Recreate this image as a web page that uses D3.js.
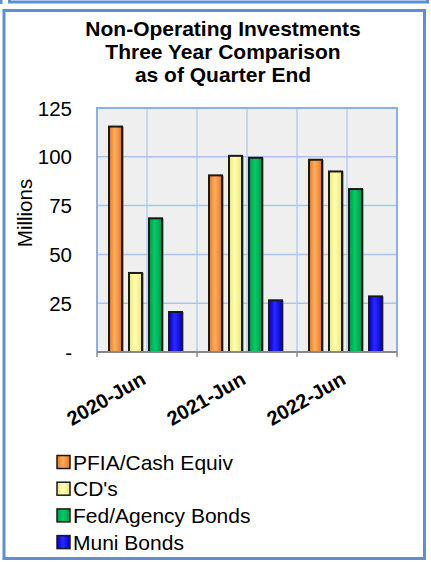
<!DOCTYPE html>
<html><head><meta charset="utf-8">
<script src="https://cdn.jsdelivr.net/npm/d3@7"></script>
<style>
html,body{margin:0;padding:0;background:#fff;}
svg{display:block;font-family:"Liberation Sans",Arial,sans-serif;}
</style></head>
<body><svg id="c" width="431" height="562"></svg>
<script>
const titleLines = ["Non-Operating Investments","Three Year Comparison","as of Quarter End"];
const categories = ["2020-Jun","2021-Jun","2022-Jun"];
const seriesNames = ["PFIA/Cash Equiv","CD's","Fed/Agency Bonds","Muni Bonds"];
const pfia = [116, 91, 99];
const cds = [41, 101, 93];
const fed = [69, 100, 84];
const muni = [21, 27, 29];
const yTicks = [0,25,50,75,100,125];
const yTickLabels = ["-","25","50","75","100","125"];
const yLabel = "Millions";
const colors = [
  {edge:"#e07a28", mid:"#ffad5c"},
  {edge:"#ece47a", mid:"#ffffb0"},
  {edge:"#00994a", mid:"#00cc66"},
  {edge:"#0000d0", mid:"#2a2aff"}
];
const values = [pfia, cds, fed, muni];

(function(){
const svg = d3.select("#c");
const defs = svg.append("defs");
colors.forEach((c,i)=>{
  const g = defs.append("linearGradient").attr("id","g"+i).attr("x1","0").attr("x2","1").attr("y1","0").attr("y2","0");
  g.append("stop").attr("offset","0").attr("stop-color",c.edge);
  g.append("stop").attr("offset","0.45").attr("stop-color",c.mid);
  g.append("stop").attr("offset","1").attr("stop-color",c.edge);
});

// frames
svg.append("rect").attr("x",9.5).attr("y",-20).attr("width",418).attr("height",22).attr("fill","none").attr("stroke","#5b8fd6").attr("stroke-width",3);
svg.append("line").attr("x1",1).attr("x2",1).attr("y1",0).attr("y2",4).attr("stroke","#5b8fd6").attr("stroke-width",3);
svg.append("rect").attr("x",4).attr("y",10.5).attr("width",420.5).attr("height",548).attr("fill","none").attr("stroke","#5b8fd6").attr("stroke-width",3);

// title
svg.append("text").attr("x",223).attr("y",36).attr("text-anchor","middle").attr("font-weight","bold").attr("font-size",21)
  .selectAll("tspan").data(titleLines).join("tspan").attr("x",223).attr("dy",(d,i)=>i?23:0).text(d=>d);

const pL=97, pR=397, pT=108, pB=352;
const x = d3.scaleBand().domain(categories).range([pL,pR]).padding(0);
const xs = d3.scaleBand().domain(d3.range(4)).range([11,86]).paddingInner(0.25).paddingOuter(0);
const y = d3.scaleLinear().domain([0,125]).range([pB,pT]);

svg.append("rect").attr("x",pL).attr("y",pT).attr("width",pR-pL).attr("height",pB-pT).attr("fill","#efefef");
// grid
svg.append("g").selectAll("line").data(yTicks.slice(1,-1)).join("line")
  .attr("x1",pL).attr("x2",pR).attr("y1",d=>y(d)).attr("y2",d=>y(d)).attr("stroke","#a9c5ec").attr("stroke-width",1.5);
const vgrid = [];
categories.forEach(c=>{vgrid.push(x(c)+x.bandwidth()/2); vgrid.push(x(c)+x.bandwidth());});
svg.append("g").selectAll("line").data(vgrid).join("line")
  .attr("x1",d=>d).attr("x2",d=>d).attr("y1",pT).attr("y2",pB).attr("stroke","#a9c5ec").attr("stroke-width",1.2);
svg.append("path").attr("d",`M${pL},${pB}V${pT}H${pR}V${pB}`).attr("fill","none").attr("stroke","#8ab0e4").attr("stroke-width",2);

// bars
const data = [];
categories.forEach((c,ci)=>values.forEach((arr,si)=>data.push({c,si,v:arr[ci]})));
const bars = svg.append("g");
bars.selectAll("rect.sh").data(data).join("rect").attr("class","sh")
  .attr("x",d=>x(d.c)+xs(d.si)+1).attr("y",d=>y(d.v)+1).attr("width",xs.bandwidth()).attr("height",d=>pB-y(d.v)).attr("fill","#777").attr("opacity",0.6);
bars.selectAll("rect.b").data(data).join("rect").attr("class","b")
  .attr("x",d=>x(d.c)+xs(d.si)+1).attr("y",d=>y(d.v)+1).attr("width",xs.bandwidth()-2).attr("height",d=>pB-y(d.v)-1)
  .attr("fill",d=>`url(#g${d.si})`).attr("stroke","#1a1a1a").attr("stroke-width",2);

// x axis
const xAxisG = svg.append("g").attr("transform",`translate(0,${pB})`);
xAxisG.append("line").attr("x1",pL).attr("x2",pR).attr("stroke","#888").attr("stroke-width",2);
const tickXs = categories.map(c=>x(c)).concat([pR]);
xAxisG.selectAll("line.t").data(tickXs).join("line").attr("class","t").attr("x1",d=>d).attr("x2",d=>d).attr("y1",0).attr("y2",5).attr("stroke","#888").attr("stroke-width",1.5);
xAxisG.selectAll("text").data(categories).join("text")
  .attr("transform",d=>`translate(${x(d)+x.bandwidth()/2},${31}) rotate(-30)`)
  .attr("text-anchor","end").attr("font-weight","bold").attr("font-size",20).text(d=>d);

// y axis labels
svg.append("g").selectAll("text").data(yTicks).join("text")
  .attr("x",72).attr("y",d=>y(d)+7.5).attr("text-anchor","end").attr("font-size",20.5).text((d,i)=>yTickLabels[i]);
svg.append("text").attr("transform",`translate(32,213) rotate(-90)`).attr("text-anchor","middle").attr("font-size",20.5).text(yLabel);

// legend
const lg = svg.append("g");
seriesNames.forEach((n,i)=>{
  const yy = 462 + i*26.7;
  lg.append("rect").attr("x",57).attr("y",yy-6.5).attr("width",13).attr("height",13).attr("fill",`url(#g${i})`).attr("stroke","#1a1a1a").attr("stroke-width",1.5);
  lg.append("text").attr("x",73).attr("y",yy+7.5).attr("font-size",21).text(n);
});
})();
</script></body></html>
